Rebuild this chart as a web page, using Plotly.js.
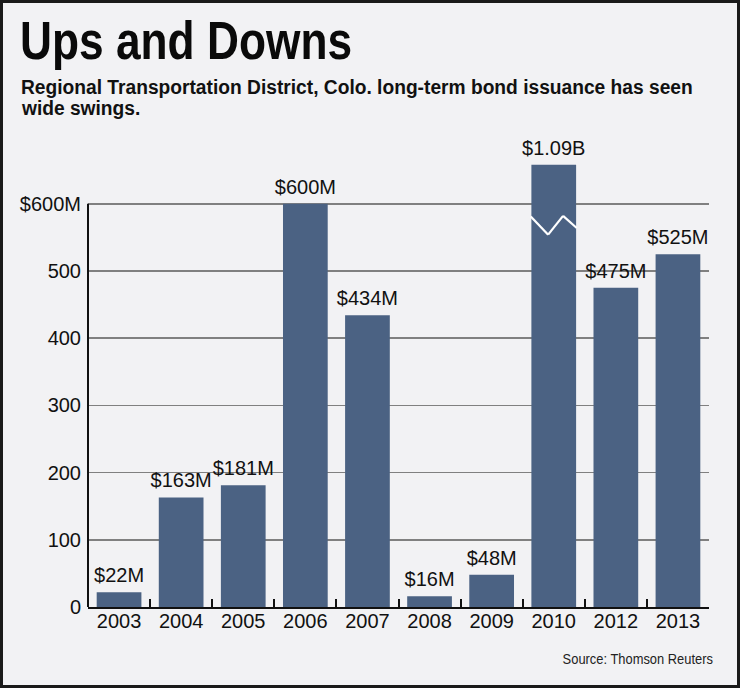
<!DOCTYPE html>
<html>
<head>
<meta charset="utf-8">
<script src="https://cdn.plot.ly/plotly-3.0.1.min.js"></script>
<style>
  html, body { margin: 0; padding: 0; background: #ffffff; }
  #chart { width: 734px; height: 682px; border: 3px solid #1a1a1a; }
</style>
</head>
<body>
<div id="chart"></div>
<script>
// ---- data ----
const years = ['2003', '2004', '2005', '2006', '2007', '2008', '2009', '2010', '2012', '2013'];
const issuanceM = [22, 163, 181, 600, 434, 16, 48, 1090, 475, 525];
const valueLabels = ['$22M', '$163M', '$181M', '$600M', '$434M', '$16M', '$48M', '$1.09B', '$475M', '$525M'];
const yTickVals = [0, 100, 200, 300, 400, 500, 600];
const yTickText = ['0', '100', '200', '300', '400', '500', '$600M'];

// broken-axis display: bars above the cap are drawn at the cap with a break mark
const axisCap = 658;
const drawnM = issuanceM.map(v => Math.min(v, axisCap));

const barColor = '#4b6283';
const bgColor = '#f2f2f4';
const FONT = 'Liberation Sans, Arial, sans-serif';

const W = 734, H = 682;
const M = { l: 85, r: 28, t: 147, b: 78 };

const trace = {
  type: 'bar',
  x: years,
  y: drawnM,
  text: valueLabels,
  textposition: 'outside',
  constraintext: 'none',
  cliponaxis: false,
  textfont: { family: FONT, size: 20, color: '#111' },
  marker: { color: barColor, line: { width: 0 } },
  hoverinfo: 'skip'
};

// break marks on bars exceeding the cap (white zigzag)
const shapes = [];
issuanceM.forEach((v, i) => {
  if (v > axisCap) {
    const pts = [[-0.37, 581], [-0.09, 554], [0.15, 582], [0.37, 564]];
    for (let k = 0; k < pts.length - 1; k++) {
      shapes.push({
        type: 'line', xref: 'x', yref: 'y',
        x0: i + pts[k][0], y0: pts[k][1], x1: i + pts[k + 1][0], y1: pts[k + 1][1],
        line: { color: '#ffffff', width: 2.2 }, layer: 'above'
      });
    }
  }
});
// y axis line only up to the top tick
shapes.push({
  type: 'line', xref: 'paper', yref: 'y',
  x0: 0, x1: 0, y0: 0, y1: yTickVals[yTickVals.length - 1],
  line: { color: '#111', width: 2 }, layer: 'above'
});

const plotW = W - M.l - M.r;
const px = p => (p - M.l) / plotW; // pixel -> paper x
const plotH = H - M.t - M.b;
const py = p => (H - M.b - p) / plotH; // pixel -> paper y

// horizontal condensing per annotation (reference uses a condensed face)
const condense = [0.82, 0.96, 0.96, 0.89];

const layout = {
  width: W, height: H,
  margin: M,
  paper_bgcolor: bgColor,
  plot_bgcolor: bgColor,
  showlegend: false,
  bargap: 0.28,
  font: { family: FONT, color: '#111' },
  xaxis: {
    type: 'category',
    showline: true, linecolor: '#111', linewidth: 2,
    ticks: 'inside', tickson: 'boundaries', ticklen: 8, tickwidth: 2, tickcolor: '#111',
    showgrid: false, zeroline: false,
    tickfont: { family: FONT, size: 20, color: '#111' },
    ticklabelstandoff: -5,
    fixedrange: true
  },
  yaxis: {
    range: [0, 680],
    tickvals: yTickVals, ticktext: yTickText,
    showgrid: true, gridcolor: '#808080', gridwidth: 1.5,
    showline: false, zeroline: false, ticks: '',
    tickfont: { family: FONT, size: 20, color: '#111' },
    ticklabelstandoff: 6,
    fixedrange: true
  },
  shapes: shapes,
  annotations: [
    {
      xref: 'paper', yref: 'paper', x: px(15), y: py(5), xanchor: 'left', yanchor: 'top',
      text: '<b>Ups and Downs</b>', showarrow: false,
      font: { size: 54, color: '#0a0a0a' }
    },
    {
      xref: 'paper', yref: 'paper', x: px(16), y: py(71), xanchor: 'left', yanchor: 'top', align: 'left',
      text: '<b>Regional Transportation District, Colo. long-term bond issuance has seen</b>',
      showarrow: false,
      font: { size: 20, color: '#111' }
    },
    {
      xref: 'paper', yref: 'paper', x: px(16), y: py(92), xanchor: 'left', yanchor: 'top', align: 'left',
      text: '<b>wide swings.</b>',
      showarrow: false,
      font: { size: 20, color: '#111' }
    },
    {
      xref: 'paper', yref: 'paper', x: px(712), y: py(666), xanchor: 'right', yanchor: 'bottom',
      text: 'Source: Thomson Reuters', showarrow: false,
      font: { size: 14.5, color: '#222' }
    }
  ]
};

Plotly.newPlot('chart', [trace], layout, { displayModeBar: false, staticPlot: true }).then(gd => {
  gd.querySelectorAll('g.annotation').forEach(g => {
    const idx = +g.getAttribute('data-index');
    const s = condense[idx];
    if (!s || s === 1) return;
    const t = g.querySelector('text.annotation-text');
    if (!t) return;
    const bb = t.getBBox();
    const ann = layout.annotations[idx];
    const pivot = ann.xanchor === 'right' ? bb.x + bb.width : bb.x;
    const prev = t.getAttribute('transform') || '';
    t.setAttribute('transform', `${prev} translate(${pivot},0) scale(${s},1) translate(${-pivot},0)`);
  });
  // lift value labels a little higher above the bars, as in the reference
  gd.querySelectorAll('text.bartext').forEach(t => {
    const prev = t.getAttribute('transform') || '';
    t.setAttribute('transform', `translate(0,-3) ${prev}`);
  });
});
</script>
</body>
</html>
